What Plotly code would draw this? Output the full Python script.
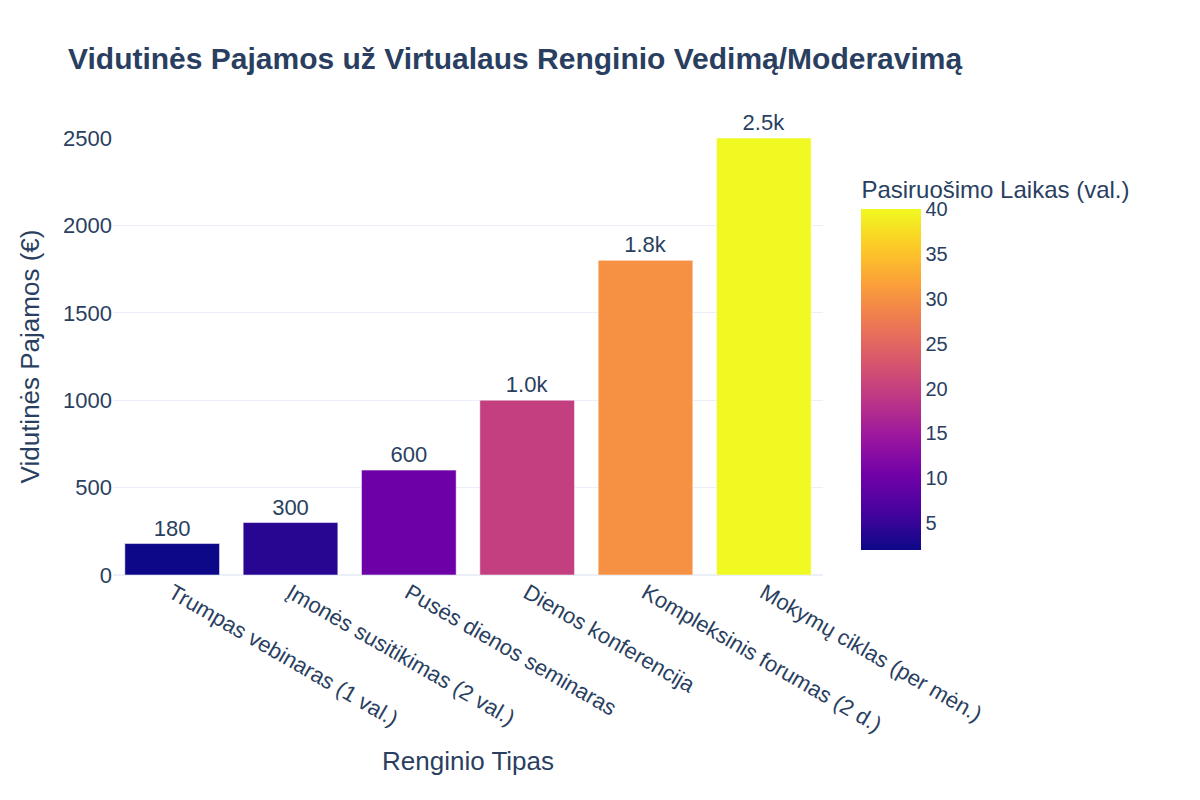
import plotly.graph_objects as go

categories = ["Trumpas vebinaras (1 val.)", "Įmonės susitikimas (2 val.)", "Pusės dienos seminaras",
              "Dienos konferencija", "Kompleksinis forumas (2 d.)", "Mokymų ciklas (per mėn.)"]
income = [180, 300, 600, 1000, 1800, 2500]
prep_hours = [2, 4, 10, 20, 30, 40]

fig = go.Figure(go.Bar(
    x=categories, y=income,
    marker=dict(color=prep_hours, colorscale="Plasma",
                colorbar=dict(title=dict(text="Pasiruošimo Laikas (val.)", font=dict(size=24)),
                              tickfont=dict(size=20), len=0.9, y=0.034, yanchor="bottom",
                              x=1.04, thickness=60, outlinewidth=0)),
    texttemplate="%{y:.2s}", textposition="outside", textfont=dict(size=22),
    cliponaxis=False,
))

fig.update_layout(
    template="plotly_white",
    width=1200, height=800,
    font=dict(family="Arial", size=20, color="#2a3f5f"),
    title=dict(text="<b>Vidutinės Pajamos už Virtualaus Renginio Vedimą/Moderavimą</b>",
               font=dict(size=30), x=0.05, y=0.95),
    xaxis=dict(title=dict(text="Renginio Tipas", font=dict(size=26)), tickangle=30, tickfont=dict(size=22)),
    yaxis=dict(title=dict(text="Vidutinės Pajamos (€)", font=dict(size=26)), range=[0, 2500], tickfont=dict(size=22)),
    margin=dict(l=105, r=385, t=130, b=233),
    bargap=0.2,
)

fig.write_html("out.html")
